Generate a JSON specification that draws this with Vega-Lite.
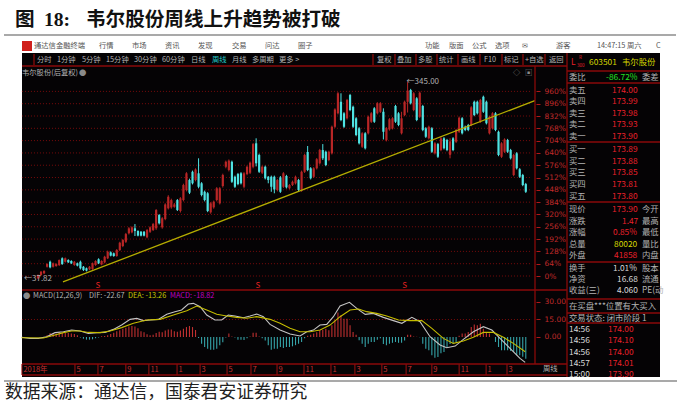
{
  "$schema": "https://vega.github.io/schema/vega-lite/v6.json",
  "width": 680,
  "height": 405,
  "autosize": {"type": "fit", "contains": "padding"},
  "padding": 0,
  "background": "white",
  "view": {"stroke": null},
  "config": {"text": {"font": "Noto Sans CJK SC"}},
  "datasets": {
    "weeks": [
      {"t":0,"o":-12,"h":8,"l":-16,"c":5},{"t":1,"o":5,"h":26,"l":2,"c":22},{"t":2,"o":14,"h":30,"l":10,"c":26},
      {"t":3,"o":48,"h":66,"l":44,"c":62,"macd":1.5},{"t":4,"o":74,"h":80,"l":40,"c":45,"macd":3.4},{"t":5,"o":48,"h":70,"l":44,"c":66,"macd":3.4},
      {"t":6,"o":52,"h":66,"l":48,"c":62,"macd":3},{"t":7,"o":57,"h":86,"l":52,"c":83,"macd":4},{"t":8,"o":92,"h":97,"l":58,"c":62,"macd":3.6},
      {"t":9,"o":74,"h":96,"l":70,"c":92,"macd":3.4},{"t":10,"o":83,"h":87,"l":68,"c":71,"macd":3.4},{"t":11,"o":78,"h":82,"l":62,"c":66,"macd":3},
      {"t":12,"o":57,"h":78,"l":53,"c":74,"macd":2.5},{"t":13,"o":66,"h":70,"l":50,"c":54,"macd":1.5},{"t":14,"o":74,"h":80,"l":34,"c":40,"macd":-0.5},
      {"t":15,"o":48,"h":52,"l":26,"c":31,"macd":-1.5},{"t":16,"o":40,"h":44,"l":24,"c":28,"macd":-2.3},{"t":17,"o":35,"h":52,"l":30,"c":48,"macd":-2.3},
      {"t":18,"o":36,"h":70,"l":32,"c":66,"macd":-2},{"t":19,"o":57,"h":82,"l":53,"c":78,"macd":-1},{"t":20,"o":87,"h":92,"l":62,"c":66,"macd":-0.5},
      {"t":21,"o":60,"h":82,"l":56,"c":78,"macd":0.6},{"t":22,"o":71,"h":105,"l":66,"c":100,"macd":0.8},{"t":23,"o":92,"h":132,"l":88,"c":126,"macd":1.5},
      {"t":24,"o":123,"h":128,"l":102,"c":106,"macd":2.5},{"t":25,"o":118,"h":122,"l":100,"c":104,"macd":3.7},{"t":26,"o":104,"h":140,"l":100,"c":135,"macd":5},
      {"t":27,"o":135,"h":178,"l":130,"c":173,"macd":5.7},{"t":28,"o":156,"h":192,"l":150,"c":187,"macd":7},{"t":29,"o":178,"h":224,"l":172,"c":218,"macd":8},
      {"t":30,"o":222,"h":254,"l":216,"c":248,"macd":9},{"t":31,"o":227,"h":258,"l":222,"c":253,"macd":9.4},{"t":32,"o":248,"h":270,"l":208,"c":234,"macd":9},
      {"t":33,"o":234,"h":238,"l":206,"c":210,"macd":7.5},{"t":34,"o":230,"h":234,"l":206,"c":210,"macd":5},{"t":35,"o":230,"h":234,"l":206,"c":210,"macd":4},
      {"t":36,"o":201,"h":244,"l":196,"c":239,"macd":2.3},{"t":37,"o":230,"h":258,"l":224,"c":253,"macd":1.5},{"t":38,"o":239,"h":276,"l":234,"c":270,"macd":2},
      {"t":39,"o":248,"h":348,"l":240,"c":343,"macd":3.5},{"t":40,"o":317,"h":322,"l":268,"c":274,"macd":4.5},{"t":41,"o":253,"h":306,"l":246,"c":300,"macd":4},
      {"t":42,"o":296,"h":378,"l":290,"c":372,"macd":5.5},{"t":43,"o":352,"h":420,"l":346,"c":412,"macd":6.5},{"t":44,"o":357,"h":402,"l":350,"c":395,"macd":6.3},
      {"t":45,"o":360,"h":380,"l":355,"c":372,"macd":5},{"t":46,"o":395,"h":400,"l":338,"c":343,"macd":4.5},{"t":47,"o":338,"h":410,"l":330,"c":404,"macd":5.5},
      {"t":48,"o":395,"h":480,"l":388,"c":473,"macd":7},{"t":49,"o":447,"h":540,"l":440,"c":534,"macd":8.5},{"t":50,"o":499,"h":506,"l":426,"c":433,"macd":9.4},
      {"t":51,"o":542,"h":548,"l":476,"c":482,"macd":8.5},{"t":52,"o":499,"h":560,"l":492,"c":554,"macd":6},{"t":53,"o":534,"h":612,"l":456,"c":464,"macd":-0.8},
      {"t":54,"o":482,"h":488,"l":414,"c":421,"macd":-5.7},{"t":55,"o":438,"h":444,"l":388,"c":395,"macd":-8.6},{"t":56,"o":430,"h":436,"l":332,"c":338,"macd":-10},
      {"t":57,"o":331,"h":384,"l":324,"c":378,"macd":-11},{"t":58,"o":357,"h":392,"l":350,"c":386,"macd":-11},{"t":59,"o":395,"h":462,"l":388,"c":456,"macd":-10},
      {"t":60,"o":378,"h":462,"l":372,"c":456,"macd":-7},{"t":61,"o":468,"h":532,"l":460,"c":525,"macd":-4.5},{"t":62,"o":568,"h":600,"l":560,"c":594,"macd":-0.5},
      {"t":63,"o":551,"h":606,"l":544,"c":600,"macd":3},{"t":64,"o":594,"h":600,"l":484,"c":490,"macd":0.5},{"t":65,"o":516,"h":522,"l":458,"c":464,"macd":-0.5},
      {"t":66,"o":530,"h":536,"l":472,"c":478,"macd":-2.3},{"t":67,"o":534,"h":540,"l":476,"c":482,"macd":-2.3},{"t":68,"o":464,"h":540,"l":456,"c":534,"macd":-2.6},
      {"t":69,"o":530,"h":574,"l":524,"c":568,"macd":-1},{"t":70,"o":537,"h":595,"l":530,"c":589,"macd":0.5},{"t":71,"o":568,"h":692,"l":560,"c":686,"macd":3.7},
      {"t":72,"o":690,"h":716,"l":570,"c":586,"macd":3.7},{"t":73,"o":629,"h":636,"l":536,"c":542,"macd":0.5},{"t":74,"o":537,"h":574,"l":530,"c":568,"macd":-1},
      {"t":75,"o":568,"h":574,"l":502,"c":508,"macd":-3},{"t":76,"o":516,"h":520,"l":482,"c":499,"macd":-7},{"t":77,"o":516,"h":522,"l":438,"c":464,"macd":-10.9},
      {"t":78,"o":516,"h":522,"l":430,"c":450,"macd":-10},{"t":79,"o":447,"h":505,"l":440,"c":499,"macd":-10},{"t":80,"o":513,"h":520,"l":432,"c":438,"macd":-8.6},
      {"t":81,"o":464,"h":540,"l":458,"c":534,"macd":-9.4},{"t":82,"o":520,"h":526,"l":455,"c":461,"macd":-8.6},{"t":83,"o":456,"h":478,"l":450,"c":473,"macd":-8.6},
      {"t":84,"o":473,"h":496,"l":468,"c":490,"macd":-8},{"t":85,"o":482,"h":522,"l":476,"c":516,"macd":-7},{"t":86,"o":499,"h":505,"l":441,"c":447,"macd":-5.7},
      {"t":87,"o":444,"h":548,"l":438,"c":542,"macd":-4.3},{"t":88,"o":542,"h":635,"l":536,"c":629,"macd":-1},{"t":89,"o":645,"h":676,"l":545,"c":551,"macd":1},
      {"t":90,"o":560,"h":566,"l":502,"c":508,"macd":2},{"t":91,"o":516,"h":566,"l":510,"c":560,"macd":2.9},{"t":92,"o":560,"h":613,"l":554,"c":607,"macd":4},
      {"t":93,"o":586,"h":661,"l":580,"c":655,"macd":5.7},{"t":94,"o":655,"h":686,"l":603,"c":612,"macd":6},{"t":95,"o":646,"h":652,"l":571,"c":577,"macd":7},
      {"t":96,"o":603,"h":652,"l":597,"c":646,"macd":5.7},{"t":97,"o":638,"h":782,"l":632,"c":776,"macd":10},{"t":98,"o":776,"h":872,"l":770,"c":866,"macd":14.3},
      {"t":99,"o":846,"h":956,"l":840,"c":950,"macd":21},{"t":100,"o":906,"h":950,"l":805,"c":811,"macd":18.6},{"t":101,"o":846,"h":852,"l":770,"c":776,"macd":15.7},
      {"t":102,"o":820,"h":921,"l":814,"c":915,"macd":15.7},{"t":103,"o":941,"h":947,"l":857,"c":863,"macd":10},{"t":104,"o":880,"h":886,"l":770,"c":776,"macd":4.3},
      {"t":105,"o":820,"h":826,"l":727,"c":733,"macd":2},{"t":106,"o":768,"h":774,"l":684,"c":690,"macd":-2.9},{"t":107,"o":672,"h":748,"l":666,"c":742,"macd":-5.7},
      {"t":108,"o":742,"h":748,"l":658,"c":664,"macd":-8.6},{"t":109,"o":742,"h":834,"l":736,"c":828,"macd":-5.7},{"t":110,"o":802,"h":852,"l":796,"c":846,"macd":-4.3},
      {"t":111,"o":872,"h":878,"l":796,"c":802,"macd":-4.3},{"t":112,"o":846,"h":904,"l":840,"c":898,"macd":-2.3},{"t":113,"o":854,"h":904,"l":848,"c":898,"macd":-1},
      {"t":114,"o":854,"h":872,"l":710,"c":750,"macd":-6},{"t":115,"o":707,"h":774,"l":700,"c":768,"macd":-7},{"t":116,"o":762,"h":821,"l":756,"c":815,"macd":-5.7},
      {"t":117,"o":768,"h":826,"l":762,"c":820,"macd":-5},{"t":118,"o":884,"h":890,"l":796,"c":802,"macd":-4.3},{"t":119,"o":846,"h":852,"l":779,"c":785,"macd":-5},
      {"t":120,"o":742,"h":854,"l":736,"c":820,"macd":-5},{"t":121,"o":837,"h":912,"l":831,"c":906,"macd":-3},{"t":122,"o":906,"h":1010,"l":850,"c":964,"macd":2},
      {"t":123,"o":967,"h":973,"l":892,"c":898,"macd":2},{"t":124,"o":863,"h":956,"l":857,"c":950,"macd":0.3},{"t":125,"o":924,"h":930,"l":805,"c":811,"macd":0.2},
      {"t":126,"o":828,"h":959,"l":822,"c":953,"macd":-0.3},{"t":127,"o":884,"h":890,"l":753,"c":759,"macd":-5.7},{"t":128,"o":768,"h":774,"l":718,"c":724,"macd":-10},
      {"t":129,"o":716,"h":782,"l":710,"c":776,"macd":-11.4},{"t":130,"o":768,"h":774,"l":640,"c":646,"macd":-15.7},{"t":131,"o":638,"h":696,"l":632,"c":690,"macd":-17.7},
      {"t":132,"o":686,"h":692,"l":614,"c":620,"macd":-17.1},{"t":133,"o":655,"h":722,"l":649,"c":716,"macd":-14},{"t":134,"o":716,"h":722,"l":658,"c":664,"macd":-12.9},
      {"t":135,"o":707,"h":713,"l":649,"c":655,"macd":-8.6},{"t":136,"o":630,"h":716,"l":612,"c":700,"macd":-6},{"t":137,"o":716,"h":722,"l":649,"c":655,"macd":-5.7},
      {"t":138,"o":698,"h":765,"l":692,"c":759,"macd":-4.3},{"t":139,"o":750,"h":829,"l":744,"c":823,"macd":1},{"t":140,"o":820,"h":826,"l":736,"c":742,"macd":2.9},
      {"t":141,"o":776,"h":782,"l":753,"c":759,"macd":3},{"t":142,"o":785,"h":791,"l":753,"c":759,"macd":4.3},{"t":143,"o":785,"h":883,"l":779,"c":877,"macd":8.6},
      {"t":144,"o":906,"h":912,"l":831,"c":837,"macd":10.6},{"t":145,"o":906,"h":912,"l":840,"c":846,"macd":10},{"t":146,"o":802,"h":921,"l":796,"c":915,"macd":11.4},
      {"t":147,"o":932,"h":938,"l":848,"c":854,"macd":7},{"t":148,"o":906,"h":912,"l":788,"c":794,"macd":4.3},{"t":149,"o":742,"h":834,"l":736,"c":828,"macd":2.9},
      {"t":150,"o":768,"h":852,"l":762,"c":846,"macd":0},{"t":151,"o":846,"h":852,"l":753,"c":759,"macd":-4.3},{"t":152,"o":750,"h":756,"l":623,"c":629,"macd":-8.6},
      {"t":153,"o":620,"h":696,"l":614,"c":690,"macd":-11.4},{"t":154,"o":646,"h":716,"l":640,"c":710,"macd":-11.4},{"t":155,"o":707,"h":713,"l":640,"c":646,"macd":-11.4},
      {"t":156,"o":655,"h":661,"l":606,"c":612,"macd":-12},{"t":157,"o":525,"h":635,"l":519,"c":629,"macd":-12.9},{"t":158,"o":638,"h":644,"l":554,"c":560,"macd":-15.7},
      {"t":159,"o":555,"h":561,"l":510,"c":516,"macd":-15.7},{"t":160,"o":525,"h":531,"l":467,"c":473,"macd":-17},{"t":161,"o":478,"h":484,"l":432,"c":438,"macd":-18.6}
    ],
    "macdLines": [
      {"series":"DIF","t":-5.4,"v":-0.3},{"series":"DIF","t":-2.6,"v":-1.2},{"series":"DIF","t":0.1,"v":-1.2},{"series":"DIF","t":2.9,"v":0.2},{"series":"DIF","t":5.6,"v":3.7},
      {"series":"DIF","t":8.4,"v":4.5},{"series":"DIF","t":11.1,"v":6},{"series":"DIF","t":13.9,"v":5.1},{"series":"DIF","t":16.6,"v":3.1},{"series":"DIF","t":19.4,"v":3.7},
      {"series":"DIF","t":22.1,"v":3.9},{"series":"DIF","t":24.9,"v":6.5},{"series":"DIF","t":27.6,"v":10.2},{"series":"DIF","t":30.4,"v":15.1},{"series":"DIF","t":32.6,"v":15.9},
      {"series":"DIF","t":34.8,"v":14},{"series":"DIF","t":37,"v":14.5},{"series":"DIF","t":39.7,"v":15.1},{"series":"DIF","t":42.5,"v":19.4},{"series":"DIF","t":45.2,"v":21.7},
      {"series":"DIF","t":47.4,"v":23.1},{"series":"DIF","t":49.6,"v":28.2},{"series":"DIF","t":51.3,"v":28.8},{"series":"DIF","t":53.5,"v":25.9},{"series":"DIF","t":55.7,"v":18.8},
      {"series":"DIF","t":58.4,"v":14.5},{"series":"DIF","t":60.6,"v":14.5},{"series":"DIF","t":62.8,"v":18.8},{"series":"DIF","t":65,"v":18},{"series":"DIF","t":67.8,"v":16.5},
      {"series":"DIF","t":70,"v":18},{"series":"DIF","t":72.2,"v":19.7},{"series":"DIF","t":74.4,"v":17.4},{"series":"DIF","t":76.6,"v":10.8},{"series":"DIF","t":79.9,"v":5.9},
      {"series":"DIF","t":83.2,"v":2.5},{"series":"DIF","t":86.5,"v":0.8},{"series":"DIF","t":88.7,"v":4.5},{"series":"DIF","t":90.9,"v":5.9},{"series":"DIF","t":93.1,"v":10.2},
      {"series":"DIF","t":95.3,"v":10.8},{"series":"DIF","t":97.5,"v":17.4},{"series":"DIF","t":99.7,"v":26.5},{"series":"DIF","t":102.8,"v":29.7},{"series":"DIF","t":105.2,"v":24.5},
      {"series":"DIF","t":108,"v":19.4},{"series":"DIF","t":110.7,"v":20.2},{"series":"DIF","t":114,"v":16.8},{"series":"DIF","t":117.3,"v":14},{"series":"DIF","t":120.1,"v":11.7},
      {"series":"DIF","t":123.4,"v":16.8},{"series":"DIF","t":126.1,"v":13.1},{"series":"DIF","t":129.4,"v":0.2},{"series":"DIF","t":132.7,"v":-6.9},{"series":"DIF","t":134.9,"v":-9.2},
      {"series":"DIF","t":137.7,"v":-7.8},{"series":"DIF","t":140.4,"v":-2.1},{"series":"DIF","t":143.7,"v":4.5},{"series":"DIF","t":147,"v":8.8},{"series":"DIF","t":149.8,"v":5.9},
      {"series":"DIF","t":152.5,"v":-1.2},{"series":"DIF","t":155.8,"v":-9.8},{"series":"DIF","t":159.1,"v":-18.3},{"series":"DIF","t":160.8,"v":-21.8},
      {"series":"DEA","t":-5.4,"v":-0.6},{"series":"DEA","t":1.8,"v":-0.9},{"series":"DEA","t":5.6,"v":1.7},{"series":"DEA","t":8.4,"v":3.7},{"series":"DEA","t":11.1,"v":5.1},
      {"series":"DEA","t":13.9,"v":5.1},{"series":"DEA","t":16.6,"v":3.9},{"series":"DEA","t":20.5,"v":3.7},{"series":"DEA","t":23.8,"v":5.1},{"series":"DEA","t":27.6,"v":8},
      {"series":"DEA","t":31.5,"v":11.7},{"series":"DEA","t":35.9,"v":14.5},{"series":"DEA","t":40.3,"v":15.1},{"series":"DEA","t":44.7,"v":18.8},{"series":"DEA","t":49.1,"v":22.5},
      {"series":"DEA","t":52.4,"v":26.5},{"series":"DEA","t":55.7,"v":23.1},{"series":"DEA","t":59,"v":19.4},{"series":"DEA","t":62.3,"v":18},{"series":"DEA","t":65.6,"v":16.8},
      {"series":"DEA","t":68.9,"v":16},{"series":"DEA","t":72.2,"v":17.4},{"series":"DEA","t":76.6,"v":15.1},{"series":"DEA","t":79.9,"v":11.7},{"series":"DEA","t":83.2,"v":7.4},
      {"series":"DEA","t":86.5,"v":4.5},{"series":"DEA","t":89.8,"v":4.5},{"series":"DEA","t":93.1,"v":5.9},{"series":"DEA","t":96.4,"v":10.2},{"series":"DEA","t":99.7,"v":17.4},
      {"series":"DEA","t":103,"v":23.1},{"series":"DEA","t":105.8,"v":24},{"series":"DEA","t":108.5,"v":21.7},{"series":"DEA","t":111.8,"v":20.2},{"series":"DEA","t":115.1,"v":18},
      {"series":"DEA","t":119,"v":14.5},{"series":"DEA","t":122.8,"v":14},{"series":"DEA","t":126.7,"v":14},{"series":"DEA","t":130,"v":7.4},{"series":"DEA","t":133.8,"v":-1.2},
      {"series":"DEA","t":137.1,"v":-5.5},{"series":"DEA","t":140.4,"v":-3.5},{"series":"DEA","t":143.7,"v":-0.3},{"series":"DEA","t":147,"v":3.9},{"series":"DEA","t":150.3,"v":3.9},
      {"series":"DEA","t":153.6,"v":-0.3},{"series":"DEA","t":156.9,"v":-5.5},{"series":"DEA","t":160.8,"v":-12.6}
    ],
    "frames": [
      {"part":"screen","col":2.2,"col2":66,"line":5.3,"line2":37.7},
      {"part":"logo","col":2.2,"col2":3.2,"line":4.1,"line2":5.1}
    ],
    "rules": [
      {"part":"page","col":0.4,"col2":67.6,"line":3.5,"line2":3.5},
      {"part":"page","col":0.4,"col2":67.7,"line":38.1,"line2":38.1},
      {"part":"grid","col":2.2,"col2":56.7,"line":6.6,"line2":6.6},
      {"part":"grid","col":2.2,"col2":56.7,"line":29,"line2":29},
      {"part":"grid","col":2.2,"col2":56.7,"line":36.4,"line2":36.4},
      {"part":"grid","col":2.2,"col2":56.7,"line":37.5,"line2":37.5},
      {"part":"grid","col":53.5,"col2":53.5,"line":6.6,"line2":36.4},
      {"part":"grid","col":56.7,"col2":56.7,"line":5.3,"line2":37.7},
      {"part":"grid","col":3.4,"col2":3.4,"line":5.4,"line2":6.5},
      {"part":"grid","col":37.3,"col2":37.3,"line":5.4,"line2":6.5},
      {"part":"grid","col":39.5,"col2":39.5,"line":5.4,"line2":6.5},
      {"part":"grid","col":41.6,"col2":41.6,"line":5.4,"line2":6.5},
      {"part":"grid","col":43.7,"col2":43.7,"line":5.4,"line2":6.5},
      {"part":"grid","col":45.8,"col2":45.8,"line":5.4,"line2":6.5},
      {"part":"grid","col":48,"col2":48,"line":5.4,"line2":6.5},
      {"part":"grid","col":50.2,"col2":50.2,"line":5.4,"line2":6.5},
      {"part":"grid","col":52.3,"col2":52.3,"line":5.4,"line2":6.5},
      {"part":"grid","col":54.5,"col2":54.5,"line":5.4,"line2":6.5},
      {"part":"grid","col":56.7,"col2":66,"line":7.1,"line2":7.1},
      {"part":"grid","col":56.7,"col2":66,"line":8.3,"line2":8.3},
      {"part":"grid","col":56.7,"col2":66,"line":14.2,"line2":14.2},
      {"part":"grid","col":56.7,"col2":66,"line":20.2,"line2":20.2},
      {"part":"grid","col":56.7,"col2":66,"line":26.2,"line2":26.2},
      {"part":"grid","col":56.7,"col2":66,"line":29.9,"line2":29.9},
      {"part":"grid","col":56.7,"col2":66,"line":31.3,"line2":31.3},
      {"part":"grid","col":56.7,"col2":66,"line":32.3,"line2":32.3}
    ],
    "uiSmall": [
      {"text":"通达信金融终端","kind":"menu","col":3.4,"line":4.6},
      {"text":"行情","kind":"menu","col":9.9,"line":4.6},{"text":"市场","kind":"menu","col":13.2,"line":4.6},{"text":"资讯","kind":"menu","col":16.5,"line":4.6},
      {"text":"发现","kind":"menu","col":19.8,"line":4.6},{"text":"交易","kind":"menu","col":23.2,"line":4.6},{"text":"问达","kind":"menu","col":26.5,"line":4.6},{"text":"圈子","kind":"menu","col":29.8,"line":4.6},
      {"text":"功能","kind":"menu","col":42.5,"line":4.6},{"text":"版面","kind":"menu","col":44.9,"line":4.6},{"text":"公式","kind":"menu","col":47.2,"line":4.6},{"text":"选项","kind":"menu","col":49.5,"line":4.6},
      {"text":"✉","kind":"menu","col":52.2,"line":4.6},{"text":"游客","kind":"menu","col":55.6,"line":4.6},{"text":"14:47:15 周六","kind":"menu","col":59.7,"line":4.6},{"text":"C","kind":"menu","col":65.6,"line":4.6},
      {"text":"分时","kind":"label","col":3.7,"line":6},{"text":"1分钟","kind":"label","col":5.7,"line":6},{"text":"5分钟","kind":"label","col":8.2,"line":6},{"text":"15分钟","kind":"label","col":10.6,"line":6},
      {"text":"30分钟","kind":"label","col":13.4,"line":6},{"text":"60分钟","kind":"label","col":16.2,"line":6},{"text":"日线","kind":"label","col":19.1,"line":6},{"text":"周线","kind":"active","col":21.2,"line":6},
      {"text":"月线","kind":"label","col":23.2,"line":6},{"text":"多周期","kind":"label","col":25.2,"line":6},{"text":"更多 >","kind":"label","col":27.9,"line":6},
      {"text":"复权","kind":"label","col":37.7,"line":6},{"text":"叠加","kind":"label","col":39.7,"line":6},{"text":"多股","kind":"label","col":41.8,"line":6},{"text":"统计","kind":"label","col":43.9,"line":6},
      {"text":"画线","kind":"label","col":46.1,"line":6},{"text":"F10","kind":"label","col":48.4,"line":6},{"text":"标记","kind":"label","col":50.4,"line":6},{"text":"+自选","kind":"label","col":52.5,"line":6},{"text":"返回","kind":"label","col":54.9,"line":6},
      {"text":"韦尔股份(后复权)","kind":"label","col":2.2,"line":7.3},{"text":"●","kind":"dim","col":7.9,"line":7.3},
      {"text":"◇","kind":"dim","col":51.3,"line":7.3},{"text":"▣","kind":"dim","col":52.5,"line":7.3},
      {"text":"●","kind":"dim","col":2.3,"line":29.6},{"text":"MACD(12,26,9)","kind":"label","col":3.3,"line":29.6},{"text":"DIF: -22.67","kind":"label","col":8.9,"line":29.6},
      {"text":"DEA: -13.26","kind":"volume","col":12.8,"line":29.6},{"text":"MACD: -18.82","kind":"macd","col":17,"line":29.6},
      {"text":"周线","kind":"label","col":54.3,"line":36.9}
    ],
    "uiTiny": [
      {"text":"R","col":57.9,"line":5.8},{"text":"300","col":57.7,"line":6.6}
    ],
    "uiPanel": [
      {"text":"L","kind":"price","col":57.1,"line":6.2},{"text":"603501","kind":"volume","col":58.9,"line":6.2},{"text":"韦尔股份","kind":"volume","col":62.2,"line":6.2},
      {"text":"委比","kind":"label","col":56.9,"line":7.7},{"text":"-86.72%","kind":"down","col":60.6,"line":7.7},{"text":"委差","kind":"label","col":64.2,"line":7.7},
      {"text":"卖五","kind":"label","col":56.9,"line":9},{"text":"174.00","kind":"price","col":61.2,"line":9},
      {"text":"卖四","kind":"label","col":56.9,"line":10.1},{"text":"173.99","kind":"price","col":61.2,"line":10.1},
      {"text":"卖三","kind":"label","col":56.9,"line":11.3},{"text":"173.98","kind":"price","col":61.2,"line":11.3},
      {"text":"卖二","kind":"label","col":56.9,"line":12.4},{"text":"173.93","kind":"price","col":61.2,"line":12.4},
      {"text":"卖一","kind":"label","col":56.9,"line":13.6},{"text":"173.90","kind":"price","col":61.2,"line":13.6},
      {"text":"买一","kind":"label","col":56.9,"line":14.9},{"text":"173.89","kind":"price","col":61.2,"line":14.9},
      {"text":"买二","kind":"label","col":56.9,"line":16.1},{"text":"173.88","kind":"price","col":61.2,"line":16.1},
      {"text":"买三","kind":"label","col":56.9,"line":17.2},{"text":"173.85","kind":"price","col":61.2,"line":17.2},
      {"text":"买四","kind":"label","col":56.9,"line":18.4},{"text":"173.81","kind":"price","col":61.2,"line":18.4},
      {"text":"买五","kind":"label","col":56.9,"line":19.6},{"text":"173.80","kind":"price","col":61.2,"line":19.6},
      {"text":"现价","kind":"label","col":56.9,"line":20.9},{"text":"173.90","kind":"price","col":61.2,"line":20.9},{"text":"今开","kind":"label","col":64.2,"line":20.9},
      {"text":"涨跌","kind":"label","col":56.9,"line":22.1},{"text":"1.47","kind":"price","col":62.2,"line":22.1},{"text":"最高","kind":"label","col":64.2,"line":22.1},
      {"text":"涨幅","kind":"label","col":56.9,"line":23.2},{"text":"0.85%","kind":"price","col":61.3,"line":23.2},{"text":"最低","kind":"label","col":64.2,"line":23.2},
      {"text":"总量","kind":"label","col":56.9,"line":24.4},{"text":"80020","kind":"volume","col":61.4,"line":24.4},{"text":"量比","kind":"label","col":64.2,"line":24.4},
      {"text":"外盘","kind":"label","col":56.9,"line":25.5},{"text":"41858","kind":"price","col":61.4,"line":25.5},{"text":"内盘","kind":"label","col":64.2,"line":25.5},
      {"text":"换手","kind":"label","col":56.9,"line":26.8},{"text":"1.01%","kind":"white","col":61.3,"line":26.8},{"text":"股本","kind":"label","col":64.2,"line":26.8},
      {"text":"净资","kind":"label","col":56.9,"line":27.9},{"text":"16.68","kind":"white","col":61.7,"line":27.9},{"text":"流通","kind":"label","col":64.2,"line":27.9},
      {"text":"收益(三)","kind":"label","col":56.9,"line":29},{"text":"4.060","kind":"white","col":61.7,"line":29},{"text":"PE(动","kind":"label","col":64.2,"line":29},
      {"text":"在买盘***位置有大买入","kind":"label","col":56.9,"line":30.6},
      {"text":"交易状态: 闭市阶段 1","kind":"label","col":56.9,"line":31.8},
      {"text":"14:56","kind":"white","col":56.9,"line":32.9},{"text":"174.00","kind":"price","col":60.8,"line":32.9},
      {"text":"14:56","kind":"white","col":56.9,"line":34},{"text":"174.10","kind":"price","col":60.8,"line":34},
      {"text":"14:56","kind":"white","col":56.9,"line":35.2},{"text":"174.00","kind":"price","col":60.8,"line":35.2},
      {"text":"14:57","kind":"white","col":56.9,"line":36.3},{"text":"174.01","kind":"price","col":60.8,"line":36.3},
      {"text":"15:00","kind":"white","col":56.9,"line":37.4},{"text":"173.90","kind":"price","col":60.8,"line":37.4}
    ],
    "months": [
      {"t":-5.3,"label":"2018年"},{"t":12.2,"label":"5"},{"t":19.8,"label":"7"},{"t":29,"label":"9"},{"t":36.6,"label":"11"},{"t":45.9,"label":"1"},
      {"t":53.5,"label":"3"},{"t":62.4,"label":"5"},{"t":70.3,"label":"7"},{"t":78.9,"label":"9"},{"t":87.8,"label":"11"},{"t":96.7,"label":"1"},
      {"t":104.6,"label":"3"},{"t":113.5,"label":"5"},{"t":121.5,"label":"7"},{"t":130,"label":"9"},{"t":139,"label":"11"},{"t":147.9,"label":"1"},
      {"t":154.8,"label":"3"}
    ]
  },
  "resolve": {"scale": {"x": "independent", "y": "independent", "color": "independent"}, "axis": {"x": "independent", "y": "independent"}},
  "layer": [
    {
      "data": {"name": "frames"},
      "mark": {"type": "rect"},
      "encoding": {
        "x": {"field": "col", "type": "quantitative", "axis": null, "scale": {"domain": [0, 68]}},
        "x2": {"field": "col2"},
        "y": {"field": "line", "type": "quantitative", "axis": null, "scale": {"domain": [40.5, 0]}},
        "y2": {"field": "line2"},
        "color": {"field": "part", "type": "nominal", "legend": null, "scale": {"domain": ["screen", "logo"], "range": ["#050305", "#d0201c"]}}
      }
    },
    {
      "data": {"values": [{"pct": 0}, {"pct": 64}, {"pct": 128}, {"pct": 192}, {"pct": 256}, {"pct": 320}, {"pct": 384}, {"pct": 448}, {"pct": 512}, {"pct": 576}, {"pct": 640}, {"pct": 704}, {"pct": 768}, {"pct": 832}, {"pct": 896}, {"pct": 960}]},
      "mark": {"type": "rule", "color": "#7a0c0c", "strokeDash": [1, 2], "strokeWidth": 1},
      "encoding": {
        "x": {"datum": -5.3, "type": "quantitative", "axis": null, "scale": {"domain": [-12.54, 211.9]}},
        "x2": {"datum": 163},
        "y": {
          "field": "pct",
          "type": "quantitative",
          "scale": {"domain": [-670.8, 1435.2]},
          "axis": {
            "orient": "right",
            "offset": -144,
            "zindex": 1,
            "title": null,
            "domain": false,
            "grid": false,
            "values": [0, 64, 128, 192, 256, 320, 384, 448, 512, 576, 640, 704, 768, 832, 896, 960],
            "labelExpr": "datum.value + '%'",
            "labelColor": "#c02a2a",
            "labelFont": "DejaVu Sans",
            "labelFontSize": 7.5,
            "labelPadding": 4,
            "tickColor": "#b01818",
            "tickSize": 4
          }
        }
      }
    },
    {
      "data": {"values": [{"v": 15}]},
      "mark": {"type": "rule", "color": "#7a0c0c", "strokeDash": [1, 2], "strokeWidth": 1},
      "encoding": {
        "x": {"datum": -5.3, "type": "quantitative", "axis": null, "scale": {"domain": [-12.54, 211.9]}},
        "x2": {"datum": 163},
        "y": {
          "field": "v",
          "type": "quantitative",
          "scale": {"domain": [-58.3, 288.8]},
          "axis": {
            "orient": "right",
            "offset": -144,
            "zindex": 1,
            "title": null,
            "domain": false,
            "grid": false,
            "values": [0, 15, 30],
            "format": ".2f",
            "labelColor": "#c02a2a",
            "labelFont": "DejaVu Sans",
            "labelFontSize": 7.5,
            "labelPadding": 4,
            "tickColor": "#b01818",
            "tickSize": 4
          }
        }
      }
    },
    {
      "data": {"name": "weeks"},
      "mark": {"type": "rule", "strokeWidth": 1},
      "encoding": {
        "x": {"field": "t", "type": "quantitative", "axis": null, "scale": {"domain": [-12.54, 211.9]}},
        "y": {"field": "l", "type": "quantitative", "axis": null, "scale": {"domain": [-670.8, 1435.2]}},
        "y2": {"field": "h"},
        "color": {"condition": {"test": "datum.c >= datum.o", "value": "#b82626"}, "value": "#4fe3e3"}
      }
    },
    {
      "data": {"name": "weeks"},
      "mark": {"type": "rule", "strokeWidth": 2.2},
      "encoding": {
        "x": {"field": "t", "type": "quantitative", "axis": null, "scale": {"domain": [-12.54, 211.9]}},
        "y": {"field": "o", "type": "quantitative", "axis": null, "scale": {"domain": [-670.8, 1435.2]}},
        "y2": {"field": "c"},
        "color": {"condition": {"test": "datum.c >= datum.o", "value": "#b82626"}, "value": "#4fe3e3"}
      }
    },
    {
      "data": {"values": [{"t": 8.25, "pct": -31}, {"t": 164, "pct": 912}]},
      "mark": {"type": "line", "color": "#b5ad00", "strokeWidth": 1.3},
      "encoding": {
        "x": {"field": "t", "type": "quantitative", "axis": null, "scale": {"domain": [-12.54, 211.9]}},
        "y": {"field": "pct", "type": "quantitative", "axis": null, "scale": {"domain": [-670.8, 1435.2]}}
      }
    },
    {
      "data": {"values": [{"t": 122, "pct": 1010, "label": "←345.00"}]},
      "mark": {"type": "text", "align": "left", "baseline": "middle", "dx": -1, "fontSize": 8, "color": "#b0b0b0"},
      "encoding": {
        "x": {"field": "t", "type": "quantitative", "axis": null, "scale": {"domain": [-12.54, 211.9]}},
        "y": {"field": "pct", "type": "quantitative", "axis": null, "scale": {"domain": [-670.8, 1435.2]}},
        "text": {"field": "label"}
      }
    },
    {
      "data": {"values": [{"t": 0, "pct": -16, "label": "←37.82"}]},
      "mark": {"type": "text", "align": "center", "baseline": "middle", "fontSize": 8, "color": "#b0b0b0"},
      "encoding": {
        "x": {"field": "t", "type": "quantitative", "axis": null, "scale": {"domain": [-12.54, 211.9]}},
        "y": {"field": "pct", "type": "quantitative", "axis": null, "scale": {"domain": [-670.8, 1435.2]}},
        "text": {"field": "label"}
      }
    },
    {
      "data": {"values": [{"t": 19.8, "label": "S"}, {"t": 72.6, "label": "S"}, {"t": 121, "label": "S"}]},
      "mark": {"type": "text", "align": "center", "baseline": "middle", "fontSize": 8, "color": "#e02020"},
      "encoding": {
        "x": {"field": "t", "type": "quantitative", "axis": null, "scale": {"domain": [-12.54, 211.9]}},
        "y": {"value": 285.5},
        "text": {"field": "label"}
      }
    },
    {
      "data": {"name": "weeks"},
      "transform": [{"filter": "isValid(datum.macd)"}],
      "mark": {"type": "rule", "strokeWidth": 1.1},
      "encoding": {
        "x": {"field": "t", "type": "quantitative", "axis": null, "scale": {"domain": [-12.54, 211.9]}},
        "y": {"field": "macd", "type": "quantitative", "axis": null, "scale": {"domain": [-58.3, 288.8]}},
        "y2": {"datum": 0},
        "color": {"condition": {"test": "datum.macd >= 0", "value": "#c03030"}, "value": "#35a3a8"}
      }
    },
    {
      "data": {"name": "macdLines"},
      "mark": {"type": "line", "strokeWidth": 1.1},
      "encoding": {
        "x": {"field": "t", "type": "quantitative", "axis": null, "scale": {"domain": [-12.54, 211.9]}},
        "y": {"field": "v", "type": "quantitative", "axis": null, "scale": {"domain": [-58.3, 288.8]}},
        "color": {"field": "series", "type": "nominal", "legend": null, "scale": {"domain": ["DIF", "DEA"], "range": ["#c4c4c4", "#c4bc00"]}}
      }
    },
    {
      "data": {"name": "months"},
      "mark": {"type": "rule", "color": "#a01010", "strokeWidth": 1},
      "encoding": {
        "x": {"field": "t", "type": "quantitative", "axis": null, "scale": {"domain": [-12.54, 211.9]}},
        "y": {"value": 364},
        "y2": {"value": 375}
      }
    },
    {
      "data": {"name": "months"},
      "mark": {"type": "text", "align": "left", "baseline": "middle", "dx": 1.5, "fontSize": 7.5, "color": "#c83030"},
      "encoding": {
        "x": {"field": "t", "type": "quantitative", "axis": null, "scale": {"domain": [-12.54, 211.9]}},
        "y": {"value": 369.5},
        "text": {"field": "label"}
      }
    },
    {
      "data": {"name": "rules"},
      "mark": {"type": "rule", "strokeWidth": 1.3},
      "encoding": {
        "x": {"field": "col", "type": "quantitative", "axis": null, "scale": {"domain": [0, 68]}},
        "x2": {"field": "col2"},
        "y": {"field": "line", "type": "quantitative", "axis": null, "scale": {"domain": [40.5, 0]}},
        "y2": {"field": "line2"},
        "color": {"field": "part", "type": "nominal", "legend": null, "scale": {"domain": ["page", "grid"], "range": ["#8c8c8c", "#8a0a0a"]}}
      }
    },
    {
      "data": {"name": "uiSmall"},
      "mark": {"type": "text", "align": "left", "baseline": "middle", "fontSize": 7.3},
      "encoding": {
        "x": {"field": "col", "type": "quantitative", "axis": null, "scale": {"domain": [0, 68]}},
        "y": {"field": "line", "type": "quantitative", "axis": null, "scale": {"domain": [40.5, 0]}},
        "text": {"field": "text"},
        "color": {"field": "kind", "type": "nominal", "legend": null, "scale": {"domain": ["menu", "label", "active", "dim", "volume", "macd"], "range": ["#555555", "#b4b4b4", "#22c8c8", "#8a8a8a", "#c8c800", "#c000c0"]}}
      }
    },
    {
      "data": {"name": "uiTiny"},
      "mark": {"type": "text", "align": "left", "baseline": "middle", "fontSize": 4.5, "color": "#e8202a"},
      "encoding": {
        "x": {"field": "col", "type": "quantitative", "axis": null, "scale": {"domain": [0, 68]}},
        "y": {"field": "line", "type": "quantitative", "axis": null, "scale": {"domain": [40.5, 0]}},
        "text": {"field": "text"}
      }
    },
    {
      "data": {"name": "uiPanel"},
      "mark": {"type": "text", "align": "left", "baseline": "middle", "fontSize": 8.4},
      "encoding": {
        "x": {"field": "col", "type": "quantitative", "axis": null, "scale": {"domain": [0, 68]}},
        "y": {"field": "line", "type": "quantitative", "axis": null, "scale": {"domain": [40.5, 0]}},
        "text": {"field": "text"},
        "color": {"field": "kind", "type": "nominal", "legend": null, "scale": {"domain": ["label", "price", "volume", "down", "white"], "range": ["#b4b4b4", "#e8202a", "#d4d400", "#22e022", "#d8d8d8"]}}
      }
    },
    {
      "data": {"values": [{"text": "图", "col": 1.5}, {"text": "18:", "col": 4.4}, {"text": "韦尔股份周线上升趋势被打破", "col": 8.6}]},
      "mark": {"type": "text", "align": "left", "baseline": "middle", "fontSize": 19.6, "fontWeight": "bold", "font": "Liberation Serif, Noto Sans CJK SC", "color": "#111111"},
      "encoding": {
        "x": {"field": "col", "type": "quantitative", "axis": null, "scale": {"domain": [0, 68]}},
        "y": {"value": 20},
        "text": {"field": "text"}
      }
    },
    {
      "data": {"values": [{"text": "数据来源：通达信，国泰君安证券研究", "col": 0.5}]},
      "mark": {"type": "text", "align": "left", "baseline": "middle", "fontSize": 17.8, "font": "Liberation Serif, Noto Sans CJK SC", "color": "#222222"},
      "encoding": {
        "x": {"field": "col", "type": "quantitative", "axis": null, "scale": {"domain": [0, 68]}},
        "y": {"value": 392.5},
        "text": {"field": "text"}
      }
    }
  ]
}
